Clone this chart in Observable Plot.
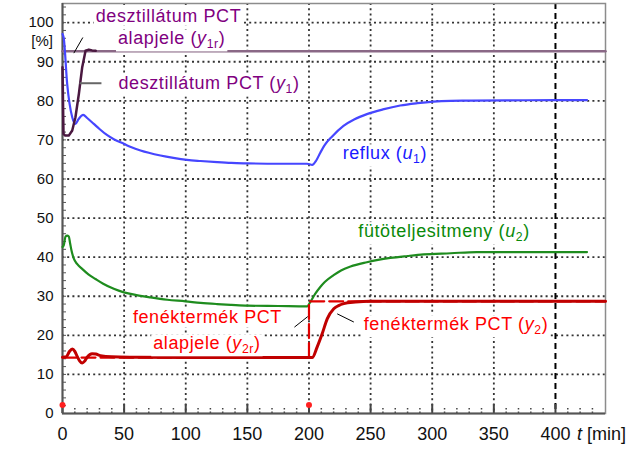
<!DOCTYPE html>
<html><head><meta charset="utf-8">
<script src="https://cdn.jsdelivr.net/npm/d3@7"></script>
<script src="https://cdn.jsdelivr.net/npm/@observablehq/plot@0.6"></script>
<style>
body{margin:0;background:#fff;}
svg{font-family:"Liberation Sans",Arial,sans-serif;}
</style>
</head><body><div id="chart"></div>
<script>
// ---- data (t in min, value in %) ----
const xTicks = [0, 50, 100, 150, 200, 250, 300, 350, 400];
const xMinor = [10,20,30,40,60,70,80,90,110,120,130,140,160,170,180,190,210,220,230,240,260,270,280,290,310,320,330,340,360,370,380,390,410,420,430];
const yTicks = [0, 10, 20, 30, 40, 50, 60, 70, 80, 90, 100];
const yMinor = d3.range(0, 105, 2);

const y1rT = [0, 440.6];
const y1rV = [92.7, 92.7];

const y1T = [0, 0.8, 2, 5.1, 7.9, 10.5, 13.3, 16, 18.7, 21.4, 24, 27];
const y1V = [88.6, 71.6, 71.1, 71.1, 72.4, 75.8, 81.8, 88.6, 92.8, 93.1, 92.9, 92.8];

const u1T = [0, 1, 3.8, 7.9, 10.5, 13, 16.8, 20, 25.4, 30, 36.3, 42, 49.8, 56, 63.3, 70, 79.5, 90, 101, 112, 125.5, 137, 150, 175, 198.5, 202.6, 206, 209.3, 213, 218.8, 228, 237, 247, 260, 274, 288, 301, 315, 328, 360, 400, 425.6];
const u1V = [97.1, 96.0, 84.3, 75.8, 74.1, 75.3, 76.4, 75.6, 74.1, 72.8, 71.2, 70.1, 69.0, 68.1, 67.3, 66.7, 66.0, 65.4, 64.9, 64.6, 64.3, 64.1, 64.0, 63.9, 63.9, 63.6, 64.8, 66.8, 68.8, 70.9, 73.6, 75.3, 76.6, 77.8, 78.8, 79.4, 79.8, 80.0, 80.05, 80.1, 80.2, 80.2];

const u2T = [0, 1, 2.5, 3.8, 5.1, 6.2, 7.3, 9.2, 12, 16, 21, 26.8, 33, 41.6, 49.8, 60, 71.4, 85, 99.8, 112, 125.5, 137, 150, 175, 198.5, 201, 205, 209, 213, 220, 226, 233.7, 247, 256, 266, 280, 293, 315, 336, 380, 425.6];
const u2V = [42.6, 43.0, 45.3, 45.5, 45.3, 43.5, 41.7, 39.6, 38.2, 37.0, 35.6, 34.4, 33.2, 31.9, 31.0, 30.3, 29.7, 29.1, 28.7, 28.3, 28.0, 27.8, 27.6, 27.5, 27.4, 28.5, 30.6, 32.3, 33.7, 35.4, 36.6, 37.6, 38.7, 39.3, 39.8, 40.3, 40.7, 41.0, 41.3, 41.3, 41.3];

const y2T = [0, 3, 5.5, 7.9, 10, 11.9, 14, 16, 18, 20, 24, 27, 30.8, 40, 60, 100, 150, 200, 202.6, 206.6, 210.7, 214.8, 220.1, 224, 228.2, 237.7, 250, 300, 440.6];
const y2V = [14.4, 14.5, 15.8, 16.5, 15.9, 14.6, 13.4, 12.9, 13.4, 14.4, 15.3, 15.2, 14.8, 14.5, 14.4, 14.3, 14.3, 14.3, 14.3, 17.0, 20.4, 24.2, 26.8, 27.6, 28.1, 28.5, 28.7, 28.7, 28.7];

const y2rT = [0, 200, 440.6];
const y2rV = [14.3, 28.7, 28.7];

const markerT = [0, 200];
const markerV = [2.2, 2.2];

const toRows = (T, V) => T.map((t, i) => ({t, v: V[i]}));

// annotation leader lines (data coordinates)
const leaders = [
  {t1: 9.2, v1: 92.2, t2: 16.5, v2: 96.2, c: "#000", w: 1},
  {t1: 13.8, v1: 84.5, t2: 31.6, v2: 84.5, c: "#666", w: 2},
  {t1: 188.2, v1: 22.1, t2: 199, v2: 24.8, c: "#000", w: 1},
  {t1: 222.9, v1: 25.5, t2: 236.4, v2: 23.4, c: "#000", w: 1}
];

const gridStyle = {stroke: "#333", strokeOpacity: 1, strokeWidth: 1.8, strokeDasharray: "2,3.2"};

const plot = Plot.plot({
  width: 633, height: 473,
  marginLeft: 62, marginRight: 28, marginTop: 3, marginBottom: 60,
  x: {domain: [0, 440.6]},
  y: {domain: [0, 104.9]},
  style: {fontFamily: "'Liberation Sans', Arial, sans-serif", background: "#fff", color: "#111"},
  marks: [
    Plot.gridY(yTicks.filter(d => d > 0), gridStyle),
    Plot.gridX(xTicks.filter(d => d > 0 && d < 400), gridStyle),
    Plot.ruleX([400], {stroke: "#000", strokeWidth: 2, strokeDasharray: "6,4"}),
    Plot.frame({stroke: "#8c8c8c", strokeWidth: 1.5}),
    Plot.axisY(yMinor, {tickSize: -4, text: null, stroke: "#555", label: null}),
    Plot.axisY(yTicks, {tickSize: 0, tickPadding: 9, fontSize: 15, label: null, fill: "#111"}),
    Plot.axisX(xMinor, {tickSize: -7, text: null, stroke: "#444", strokeDasharray: "1.5,2", strokeWidth: 1.5, label: null}),
    Plot.axisX(xTicks, {tickSize: -9, text: null, stroke: "#444", strokeWidth: 2, label: null}),
    Plot.axisX(xTicks, {tickSize: 0, tickPadding: 14, fontSize: 18, label: null, fill: "#111"}),
    Plot.ruleX([0], {stroke: "#555", strokeWidth: 2}),
    Plot.ruleY([0], {stroke: "#555", strokeWidth: 2}),
    Plot.line(toRows(y1rT, y1rV), {x: "t", y: "v", stroke: "#8a6886", strokeWidth: 2.5}),
    Plot.line(toRows(u1T, u1V), {x: "t", y: "v", stroke: "#4646ff", strokeWidth: 2.2, curve: "monotone-x"}),
    Plot.line(toRows(u2T, u2V), {x: "t", y: "v", stroke: "#1e8c1e", strokeWidth: 2.2, curve: "monotone-x"}),
    Plot.line(toRows(y2rT, y2rV), {x: "t", y: "v", stroke: "#e00000", strokeWidth: 2.2, strokeDasharray: "14,5", curve: "step-after"}),
    Plot.line(toRows(y2T, y2V), {x: "t", y: "v", stroke: "#c00000", strokeWidth: 3, curve: "monotone-x"}),
    Plot.line(toRows(y1T, y1V), {x: "t", y: "v", stroke: "#4a1840", strokeWidth: 2.5}),
    Plot.dot(toRows(markerT, markerV), {x: "t", y: "v", fill: "#ff2020", r: 3}),
    Plot.link(leaders, {x1: "t1", y1: "v1", x2: "t2", y2: "v2", stroke: "c", strokeWidth: "w"})
  ]
});
document.getElementById("chart").appendChild(plot);

// ---- rich-text labels (italic symbols, subscripts) placed through the scales ----
const X = plot.scale("x"), Y = plot.scale("y");
const labels = [
  {t: 86.4, v: 100.1, c: "#800080", parts: [["desztillátum PCT"]]},
  {t: 89, v: 94.3, c: "#800080", parts: [["alapjele ("], ["y", "i"], ["1r", "s"], [")"]]},
  {t: 119.3, v: 82.8, c: "#800080", parts: [["desztillátum PCT ("], ["y", "i"], ["1", "s"], [")"]]},
  {t: 262, v: 64.9, c: "#1a1aff", parts: [["reflux ("], ["u", "i"], ["1", "s"], [")"]]},
  {t: 310, v: 45.0, c: "#0a8a0a", parts: [["fütöteljesitmeny ("], ["u", "i"], ["2", "s"], [")"]]},
  {t: 118, v: 22.9, c: "#ff0000", parts: [["fenéktermék PCT"]]},
  {t: 117.6, v: 16.3, c: "#ff0000", parts: [["alapjele ("], ["y", "i"], ["2r", "s"], [")"]]},
  {t: 319.7, v: 21.2, c: "#ff0000", parts: [["fenéktermék PCT ("], ["y", "i"], ["2", "s"], [")"]]}
];
const svg = d3.select(plot);
const layer = svg.append("g");
function addText(g, x, y, parts, opts) {
  const box = g.append("rect").attr("fill", "#fff");
  const txt = g.append("text").attr("x", x).attr("y", y)
    .attr("text-anchor", opts.anchor).attr("fill", opts.color)
    .attr("font-size", opts.size).attr("letter-spacing", opts.ls || 0);
  let shifted = false;
  for (const [s, k] of parts) {
    const sp = txt.append("tspan").text(s);
    if (k === "i") sp.attr("font-style", "italic");
    if (k === "s") { sp.attr("font-size", opts.size * 0.68).attr("dy", 4); shifted = true; }
    else if (shifted) { sp.attr("dy", -4); shifted = false; }
  }
  if (opts.box) {
    const b = txt.node().getBBox();
    box.attr("x", b.x - 2).attr("y", b.y + 1).attr("width", b.width + 4).attr("height", b.height - 1);
  } else box.remove();
}
for (const L of labels) {
  addText(layer.append("g"), X.apply(L.t), Y.apply(L.v), L.parts, {anchor: "middle", color: L.c, size: 18, ls: 0.6, box: true});
}
// axis annotations
addText(layer.append("g"), 53, Y.apply(95.1) + 5, [["[%]"]], {anchor: "end", color: "#111", size: 15});
addText(layer.append("g"), X.apply(400) + 22, Y.apply(0) + 27, [["t", "i"], [" [min]"]], {anchor: "start", color: "#111", size: 18});
</script>
</body></html>
